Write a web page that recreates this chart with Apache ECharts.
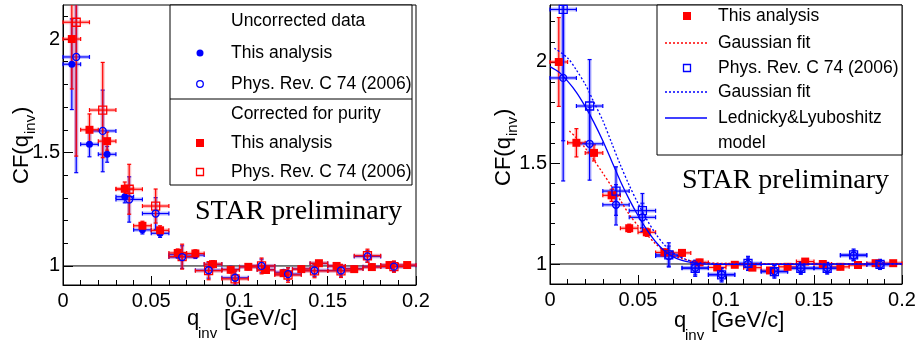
<!DOCTYPE html>
<html>
<head>
<meta charset="utf-8">
<script src="https://cdn.jsdelivr.net/npm/echarts@6/dist/echarts.min.js"></script>
<style>
  html, body { margin: 0; padding: 0; background: #fff; }
  #chart { width: 920px; height: 342px; }
</style>
</head>
<body>
<div id="chart"></div>
<script>
// --- data ---
const qThis = [0.005, 0.015, 0.025, 0.035, 0.045, 0.055, 0.065, 0.075, 0.085, 0.095,
               0.105, 0.115, 0.125, 0.135, 0.145, 0.155, 0.165, 0.175, 0.185, 0.195];
const dqThis = 0.005;
const cfCorrThis  = [2.0, 1.60, 1.55, 1.34, 1.177, 1.157, 1.057, 1.055, 1.008, 0.983,
                     0.996, 0.982, 0.968, 0.986, 1.012, 1.0, 0.986, 0.995, 1.004, 1.004];
const errCorrThis = [0.22, 0.07, 0.04, 0.03, 0.02, 0.02, 0.018, 0.016, 0.015, 0.014,
                     0.013, 0.013, 0.012, 0.012, 0.012, 0.011, 0.011, 0.011, 0.01, 0.01];
const cfRawThis   = [1.889, 1.536, 1.492, 1.305, 1.159, 1.144, 1.05, 1.048, 1.007, 0.985,
                     0.996, 0.984, 0.972, 0.987, 1.011, 1.0, 0.988, 0.996, 1.003, 1.003];
const errRawThis  = [0.2, 0.055, 0.035, 0.027, 0.018, 0.018, 0.016, 0.015, 0.014, 0.013,
                     0.012, 0.012, 0.011, 0.011, 0.011, 0.01, 0.01, 0.01, 0.009, 0.009];

const qPrc = [0.0075, 0.0225, 0.0375, 0.0525, 0.0675, 0.0825, 0.0975,
              0.1125, 0.1275, 0.1425, 0.1575, 0.1725, 0.1875];
const dqPrc = 0.0075;
const cfRawPrc    = [1.921, 1.595, 1.293, 1.231, 1.039, 0.981, 0.948, 1.0, 0.964, 0.98, 0.98, 1.042, 0.997];
const errRawPrc   = [0.51, 0.18, 0.1, 0.07, 0.05, 0.035, 0.03, 0.03, 0.028, 0.026, 0.025, 0.025, 0.022];
const cfCorrPrc   = [2.074, 1.687, 1.338, 1.264, 1.041, 0.979, 0.943, 1.0, 0.960, 0.978, 0.978, 1.045, 0.997];
const errCorrPrc  = [0.59, 0.21, 0.11, 0.075, 0.055, 0.04, 0.035, 0.035, 0.032, 0.03, 0.029, 0.029, 0.025];
const cfCorrPrcR  = [2.26, 1.782, 1.361, 1.264, 1.045, 0.979, 0.946, 1.003, 0.962, 0.979, 0.979, 1.045, 0.998];
const errCorrPrcR = [0.65, 0.23, 0.12, 0.085, 0.06, 0.04, 0.035, 0.035, 0.032, 0.03, 0.029, 0.029, 0.025];

// fitted curves (right panel), [q, CF]
const gaussThis = [[0.011, 1.658], [0.015, 1.625], [0.02, 1.574], [0.025, 1.514], [0.03, 1.45],
  [0.035, 1.384], [0.04, 1.315], [0.045, 1.245], [0.05, 1.19], [0.055, 1.145], [0.06, 1.10],
  [0.065, 1.065], [0.07, 1.042], [0.075, 1.027], [0.08, 1.016], [0.085, 1.01], [0.09, 1.006],
  [0.1, 1.003], [0.12, 1.002], [0.2, 1.002]];
const gaussPrc = [[0.0025, 2.068], [0.01, 2.02], [0.015, 1.96], [0.02, 1.89], [0.025, 1.80],
  [0.03, 1.71], [0.035, 1.60], [0.04, 1.49], [0.045, 1.39], [0.05, 1.30], [0.055, 1.22],
  [0.06, 1.15], [0.065, 1.095], [0.07, 1.055], [0.075, 1.03], [0.08, 1.015], [0.085, 1.007],
  [0.09, 1.003], [0.1, 1.001], [0.12, 1.0], [0.2, 1.0]];
const llModel = [[0, 1.977], [0.005, 1.95], [0.01, 1.905], [0.015, 1.85], [0.02, 1.78],
  [0.025, 1.70], [0.03, 1.61], [0.035, 1.51], [0.04, 1.41], [0.045, 1.32], [0.05, 1.24],
  [0.055, 1.17], [0.06, 1.11], [0.065, 1.065], [0.07, 1.035], [0.075, 1.018], [0.08, 1.008],
  [0.085, 1.002], [0.09, 0.999], [0.1, 0.998], [0.12, 0.998], [0.15, 0.999], [0.2, 1.001]];
const unity = [[0, 1], [0.2, 1]];

// axis ticks
const yLabels = [1, 1.5, 2];
const yMinorLeft  = [1.0, 1.1, 1.2, 1.3, 1.4, 1.5, 1.6, 1.7, 1.8, 1.9, 2.0, 2.1];
const yMinorRight = [1.0, 1.1, 1.2, 1.3, 1.4, 1.5, 1.6, 1.7, 1.8, 1.9, 2.0, 2.1, 2.2];

const FONT = '"Liberation Sans", Arial, sans-serif';
const SERIF = '"Liberation Serif", "Times New Roman", serif';
const RED = '#ff0000', BLUE = '#0000ff';

const chart = echarts.init(document.getElementById('chart'), null, { renderer: 'canvas' });

function xAx(grid) {
  return {
    type: 'value', gridIndex: grid, min: 0, max: 0.2, interval: 0.05,
    axisLine: { show: true, onZero: false, lineStyle: { color: '#000', width: 1 } },
    axisTick: { show: true, inside: true, length: 9, lineStyle: { color: '#000' } },
    minorTick: { show: true, splitNumber: 5, length: 5, lineStyle: { color: '#000' } },
    axisLabel: { color: '#000', fontFamily: FONT, fontSize: 20, margin: 6 },
    splitLine: { show: false }, minorSplitLine: { show: false },
  };
}
function yAx(grid, min, max, major) {
  return {
    type: 'value', gridIndex: grid, min, max, position: 'left',
    axisLine: { show: major, onZero: false, lineStyle: { color: '#000', width: 1 } },
    axisTick: { show: true, inside: true, length: major ? 10 : 5,
      customValues: major ? yLabels : (grid === 0 ? yMinorLeft : yMinorRight),
      lineStyle: { color: '#000' } },
    axisLabel: { show: major, customValues: yLabels, color: '#000', fontFamily: FONT, fontSize: 20, margin: 3 },
    splitLine: { show: false },
  };
}

function errBars(xs, ys, dx, dy, color, halo, xi, yi) {
  return {
    type: 'custom', xAxisIndex: xi, yAxisIndex: yi, z: 2, silent: true,
    data: xs.map((x, i) => [x, ys[i], dx, dy[i]]),
    renderItem: (params, api) => {
      const cs = params.coordSys;
      const cy = (v) => Math.max(cs.y, Math.min(cs.y + cs.height, v));
      const x = api.value(0), y = api.value(1), ex = api.value(2), ey = api.value(3);
      const c = api.coord([x, y]);
      const l = api.coord([x - ex, y])[0], r = api.coord([x + ex, y])[0];
      const tRaw = api.coord([x, y + ey])[1], bRaw = api.coord([x, y - ey])[1];
      const t = cy(tRaw), b = cy(bRaw);
      const segs = [[l, c[1], r, c[1]], [c[0], t, c[0], b]];
      const caps = [[l, c[1] - 2, l, c[1] + 2], [r, c[1] - 2, r, c[1] + 2]];
      if (t === tRaw) caps.push([c[0] - 2, t, c[0] + 2, t]);
      if (b === bRaw) caps.push([c[0] - 2, b, c[0] + 2, b]);
      const children = [];
      segs.forEach(([x1, y1, x2, y2]) => children.push({
        type: 'line', shape: { x1, y1, x2, y2 }, style: { stroke: halo, lineWidth: 4 } }));
      segs.concat(caps).forEach(([x1, y1, x2, y2]) => children.push({
        type: 'line', shape: { x1, y1, x2, y2 }, style: { stroke: color, lineWidth: 1.2 } }));
      return { type: 'group', children };
    },
  };
}
function pts(xs, ys, symbol, size, fill, stroke, xi, yi) {
  return {
    type: 'scatter', xAxisIndex: xi, yAxisIndex: yi, symbol, symbolSize: size, z: 3, silent: true,
    data: xs.map((x, i) => [x, ys[i]]),
    itemStyle: { color: fill, borderColor: stroke || fill, borderWidth: stroke ? 1.3 : 0, opacity: 1 },
  };
}
function curve(data, color, dashed, yi) {
  return {
    type: 'line', xAxisIndex: 1, yAxisIndex: yi, data, showSymbol: false, symbol: 'none',
    z: 4, silent: true, smooth: 0.3,
    lineStyle: { color, width: 1.3, type: dashed ? [2, 2] : 'solid' },
  };
}
function unityLine(xi, yi) {
  return {
    type: 'line', xAxisIndex: xi, yAxisIndex: yi, data: unity, showSymbol: false, symbol: 'none',
    z: 1, silent: true, lineStyle: { color: '#000', width: 1 },
  };
}

const txt = (text, x, y, size, font, extra) => Object.assign({
  type: 'text', x, y, silent: true,
  style: { text, font: `${size}px ${font || FONT}`, fill: '#000',
    textAlign: 'left', textVerticalAlign: 'middle', align: 'left', verticalAlign: 'middle' },
}, extra || {});
const box = (x, y, w, h) => ({ type: 'rect', shape: { x, y, width: w, height: h },
  style: { fill: '#fff', stroke: '#000', lineWidth: 1 } });
const hline = (x1, x2, y, color, dash) => ({ type: 'line', shape: { x1, y1: y, x2, y2: y },
  style: { stroke: color, lineWidth: 1.3, lineDash: dash ? [2, 2] : null } });

function yTitle(x, y) {
  return { type: 'group', x, y, rotation: Math.PI / 2, silent: true, children: [
    txt('CF(q', 0, 0, 22), txt('inv', 50, 9, 15), txt(')', 70, 0, 22)] };
}
function xTitle(x, y) {
  return { type: 'group', x, y, silent: true, children: [
    txt('q', 0, 0, 22), txt('inv', 11, 15, 15), txt('[GeV/c]', 37, 0, 22)] };
}

const legendL = { type: 'group', z: 100, children: [
  box(170, 5, 242, 180),
  { type: 'line', shape: { x1: 170, y1: 99, x2: 412, y2: 99 }, style: { stroke: '#000', lineWidth: 1 } },
  txt('Uncorrected data', 231, 21, 17.5),
  { type: 'circle', shape: { cx: 200, cy: 53, r: 3.5 }, style: { fill: BLUE } },
  txt('This analysis', 231, 53, 17.5),
  { type: 'circle', shape: { cx: 200, cy: 84, r: 3.3 }, style: { fill: 'none', stroke: BLUE, lineWidth: 1.3 } },
  txt('Phys. Rev. C 74 (2006)', 231, 84, 17.5),
  txt('Corrected for purity', 231, 114, 17.5),
  { type: 'rect', shape: { x: 196, y: 139, width: 8, height: 8 }, style: { fill: RED } },
  txt('This analysis', 231, 143, 17.5),
  { type: 'rect', shape: { x: 196.5, y: 168.5, width: 7, height: 7 }, style: { fill: 'none', stroke: RED, lineWidth: 1.3 } },
  txt('Phys. Rev. C 74 (2006)', 231, 172, 17.5),
] };
const legendR = { type: 'group', z: 100, children: [
  box(657, 5, 245, 150),
  { type: 'rect', shape: { x: 683, y: 12, width: 8, height: 8 }, style: { fill: RED } },
  txt('This analysis', 718, 16, 17.5),
  hline(665, 707, 43, RED, true),
  txt('Gaussian fit', 718, 43, 17.5),
  { type: 'rect', shape: { x: 683.5, y: 64.5, width: 7, height: 7 }, style: { fill: 'none', stroke: BLUE, lineWidth: 1.3 } },
  txt('Phys. Rev. C 74 (2006)', 718, 68, 17.5),
  hline(665, 707, 92, BLUE, true),
  txt('Gaussian fit', 718, 92, 17.5),
  hline(665, 707, 118, BLUE, false),
  txt('Lednicky&Lyuboshitz', 718, 118, 17.5),
  txt('model', 718, 143, 17.5),
] };

const option = {
  animation: false,
  backgroundColor: '#fff',
  grid: [
    { left: 63, top: 5, width: 353, height: 280, show: true, borderColor: '#000', borderWidth: 1 },
    { left: 550, top: 5, width: 352, height: 279, show: true, borderColor: '#000', borderWidth: 1 },
  ],
  xAxis: [xAx(0), xAx(1)],
  yAxis: [yAx(0, 0.916, 2.15, true), yAx(0, 0.916, 2.15, false),
          yAx(1, 0.901, 2.282, true), yAx(1, 0.901, 2.282, false)],
  series: [
    unityLine(0, 0),
    unityLine(1, 2),
    // left panel
    errBars(qThis, cfRawThis, dqThis, errRawThis, BLUE, 'rgba(60,60,255,0.3)', 0, 0),
    errBars(qPrc, cfRawPrc, dqPrc, errRawPrc, BLUE, 'rgba(60,60,255,0.3)', 0, 0),
    errBars(qThis, cfCorrThis, dqThis, errCorrThis, RED, 'rgba(255,60,60,0.3)', 0, 0),
    errBars(qPrc, cfCorrPrc, dqPrc, errCorrPrc, RED, 'rgba(255,60,60,0.3)', 0, 0),
    pts(qThis, cfRawThis, 'circle', 7, BLUE, null, 0, 0),
    pts(qThis, cfCorrThis, 'rect', 8, RED, null, 0, 0),
    pts(qPrc, cfCorrPrc, 'rect', 8, 'rgba(0,0,0,0)', RED, 0, 0),
    pts(qPrc, cfRawPrc, 'circle', 7, 'rgba(0,0,0,0)', BLUE, 0, 0),
    // right panel
    errBars(qThis, cfCorrThis, dqThis, errCorrThis, RED, 'rgba(255,60,60,0.3)', 1, 2),
    errBars(qPrc, cfRawPrc, dqPrc, errRawPrc, BLUE, 'rgba(60,60,255,0.3)', 1, 2),
    errBars(qPrc, cfCorrPrcR, dqPrc, errCorrPrcR, BLUE, 'rgba(60,60,255,0.3)', 1, 2),
    pts(qThis, cfCorrThis, 'rect', 8, RED, null, 1, 2),
    pts(qPrc, cfCorrPrcR, 'rect', 8, 'rgba(0,0,0,0)', BLUE, 1, 2),
    pts(qPrc, cfRawPrc, 'circle', 7, 'rgba(0,0,0,0)', BLUE, 1, 2),
    curve(gaussThis, RED, true, 2),
    curve(gaussPrc, BLUE, true, 2),
    curve(llModel, BLUE, false, 2),
  ],
  graphic: [
    legendL, legendR,
    txt('STAR preliminary', 195, 212, 28, SERIF),
    txt('STAR preliminary', 682, 181, 28, SERIF),
    yTitle(22, 184), yTitle(504, 186),
    xTitle(187, 319), xTitle(674, 321),
  ],
};

chart.setOption(option);
</script>
</body>
</html>
